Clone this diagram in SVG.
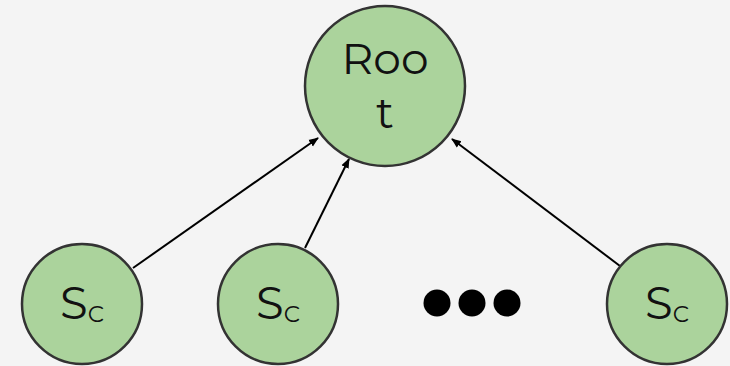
<svg xmlns="http://www.w3.org/2000/svg" width="730" height="366" viewBox="0 0 730 366">
<defs>
<marker id="ah" markerWidth="10" markerHeight="10" refX="9" refY="5" orient="auto" markerUnits="userSpaceOnUse">
<path d="M0,1 L10,5 L0,9 Z" fill="#000"/>
</marker>
<style>
.node{fill:#abd39c;stroke:#333;stroke-width:2.5}
.lbl{font-family:"Montserrat","Lato","Noto Sans",sans-serif;fill:#111;text-anchor:middle}
.edge{stroke:#000;stroke-width:2;fill:none;marker-end:url(#ah)}
.sub{font-size:23px}
</style>
</defs>
<rect width="730" height="366" fill="#f4f4f4"/>
<g id="connectors">
<line class="edge" x1="133" y1="268" x2="318" y2="138"/>
<line class="edge" x1="305" y1="248" x2="349" y2="159"/>
<line class="edge" x1="620" y1="266" x2="452" y2="139"/>
</g>
<g id="root">
<circle class="node" cx="385" cy="86" r="80"/>
<text class="lbl" x="385" y="74" font-size="44">Roo</text>
<text class="lbl" x="385" y="128" font-size="44">t</text>
</g>
<g id="sc1">
<circle class="node" cx="82" cy="304" r="60"/>
<text class="lbl" x="82" y="319" font-size="45">S<tspan class="sub" dy="3">C</tspan></text>
</g>
<g id="sc2">
<circle class="node" cx="278" cy="304" r="60"/>
<text class="lbl" x="278" y="319" font-size="45">S<tspan class="sub" dy="3">C</tspan></text>
</g>
<g id="dots">
<circle cx="437" cy="303" r="13.5" fill="#000"/>
<circle cx="472" cy="303" r="13.5" fill="#000"/>
<circle cx="507" cy="303" r="13.5" fill="#000"/>
</g>
<g id="sc3">
<circle class="node" cx="667" cy="304" r="60"/>
<text class="lbl" x="667" y="319" font-size="45">S<tspan class="sub" dy="3">C</tspan></text>
</g>
</svg>
